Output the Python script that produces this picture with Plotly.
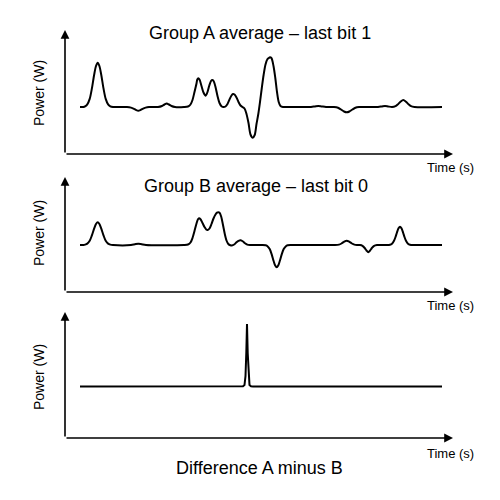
import plotly.graph_objects as go

# ---- data (time in arbitrary units, power in arbitrary units) ----
t_a = [15, 18.5,
       20.1, 22.3, 24.7, 26.9, 29.2, 31.0, 32.7, 34.4, 36.2, 38.5, 40.7, 43.1, 45.3, 48,
       62, 66, 69, 71.3, 73.3, 75.3, 77.6, 80.6, 84,
       93, 97, 99.5, 101.7, 104, 106.5, 110,
       119, 123, 125.5, 127.5, 129.5, 131.5, 132.3, 133.3, 134.5, 136.5, 138.5, 140.7,
       142.5, 144.3, 146, 147.3, 148.6, 150.5, 152.5, 154.5, 156.5, 158.5,
       160.5, 162.5, 164.5, 166.5, 168, 169.5, 171.5, 173.5, 175.5, 177.5,
       179.5, 181.5, 183.5, 185.5, 187.7, 189.7, 191.5, 193.3, 195, 196.8, 198.6,
       200.5, 202.5, 203.5, 205, 206.5, 208.5, 210.3, 212, 213.7, 215.5, 218, 222,
       246, 250, 253.3, 256.5, 261,
       269, 273, 276, 279, 281.7, 284.4, 287.4, 290.4, 294,
       313, 317, 320, 323, 327,
       330.5, 333, 335.5, 338.3, 341, 343.5, 346, 349.5, 377]
p_a = [47, 47,
       47.7, 49.7, 55.1, 65.6, 79.5, 88, 91.3, 88, 79.5, 65.6, 55.1, 49.7, 47.7, 47,
       47, 46.4, 45.2, 43.9, 43.3, 43.9, 45.2, 46.4, 47,
       47, 48, 49.5, 50.5, 49.5, 48, 47,
       47, 47.5, 49.5, 54, 62, 70.5, 74.5, 75.7, 74.5, 68, 61.5, 58.3,
       62, 68.5, 73, 74, 73, 67, 58, 51, 47.8, 47,
       47.5, 50, 54.5, 58.5, 60, 59.5, 56.5, 52, 48.5, 47,
       45.5, 40, 31, 19.5, 16.3, 19, 30, 40, 52, 66, 79,
       89.5, 95, 95.8, 96.7, 95.8, 88, 76, 62, 52, 48, 47, 47,
       47, 47.6, 48, 47.6, 47,
       47, 46.3, 44.5, 42.5, 41.7, 42.5, 44.5, 46.3, 47,
       47, 47.6, 48, 47.6, 47,
       47.8, 49.8, 52.3, 54, 52.3, 49.8, 47.8, 47, 47]

t_b = [15, 18.5,
       20.1, 22.3, 24.7, 26.9, 29.2, 31.0, 32.7, 34.4, 36.2, 38.5, 40.7, 43.1, 45.3, 48,
       66, 70, 73.3, 76.6, 81,
       119, 123, 125.5, 127.5, 129.5, 131.5, 133, 134, 135.5, 137.5, 139.5, 141.2, 142.7,
       144.5, 146.5, 148.5, 150.5, 152, 153.3, 154.6, 156.3, 158, 159.8, 161.5, 163.3,
       165.3, 167.5, 169.5, 171.5, 173.5, 175.7, 178, 180, 182.3, 185,
       197, 200.7, 202.7, 204.7, 206.7, 208.7, 210.2, 211.7, 213.2, 214.7, 216.7,
       218.7, 220.7, 222.7, 226,
       270, 274, 276.5, 279, 281.7, 284.4, 286.9, 289.4, 292,
       295, 297.5, 299.7, 301.5, 303.3, 305.1, 306.9, 309.1, 312,
       321, 325, 327, 329, 330.5, 332, 333.5, 335, 336.5, 338, 339.5, 341, 343, 345,
       349, 377]
p_b = [47, 47,
       47.4, 48.4, 51.2, 56.6, 63.6, 68, 69.7, 68, 63.6, 56.6, 51.2, 48.4, 47.4, 47,
       47, 47.8, 48.3, 47.8, 47,
       47, 47.5, 49.5, 54, 61, 68.5, 72.8, 73.7, 72.8, 69, 65, 62.5, 62,
       63.5, 68, 73.5, 77.5, 79.3, 79.7, 79.3, 75, 67, 58, 51.5, 48,
       46.8, 46.7, 47.8, 49.8, 51.2, 51.7, 50.5, 48.8, 47.4, 47,
       47, 46.7, 45.6, 42.9, 37.6, 30.7, 26.4, 24.7, 26.4, 30.7, 37.6,
       42.9, 45.6, 46.7, 47,
       47, 47.4, 48.5, 50.2, 51.3, 50.2, 48.5, 47.4, 47,
       47, 46.2, 44, 41.5, 39.7, 41.5, 44, 46.2, 47,
       47, 47.3, 48.3, 51.2, 55, 59.7, 63.7, 65.3, 63.7, 59.7, 55, 51.2, 48.3, 47.3,
       47, 47]

t_d = [15, 176, 178, 179.5, 180.5, 181.3, 182, 182.7, 183.5, 184.5, 186, 188, 377]
p_d = [51.5, 51.5, 51.8, 53, 62, 85, 114, 85, 62, 53, 51.8, 51.5, 51.5]

titles = ["Group A average – last bit 1", "Group B average – last bit 0",
          "Difference A minus B"]
x_label = "Time (s)"
y_label = "Power (W)"

X_MAX = 388
Y_MAX = [124, 115, 126]
y_domains = [[0.692, 0.94], [0.416, 0.646], [0.124, 0.376]]
x_domain = [0.13, 0.906]

FONT = "Liberation Sans, Arial, sans-serif"

fig = go.Figure()
series = [(t_a, p_a, "spline"), (t_b, p_b, "spline"), (t_d, p_d, "linear")]
for i, (tx, py, shape) in enumerate(series):
    n = "" if i == 0 else str(i + 1)
    line = dict(color="black", width=2, shape=shape)
    if shape == "spline":
        line["smoothing"] = 0.8
    fig.add_trace(go.Scatter(x=tx, y=py, mode="lines", line=line,
                             xaxis="x" + n, yaxis="y" + n,
                             showlegend=False, hoverinfo="skip"))

layout = dict(width=500, height=500, margin=dict(l=0, r=0, t=0, b=0),
              paper_bgcolor="white", plot_bgcolor="white", showlegend=False)
annotations = []
for i in range(3):
    n = "" if i == 0 else str(i + 1)
    layout["xaxis" + n] = dict(domain=x_domain, range=[0, X_MAX], visible=False,
                               anchor="y" + n, fixedrange=True)
    layout["yaxis" + n] = dict(domain=y_domains[i], range=[0, Y_MAX[i]],
                               visible=False, anchor="x" + n, fixedrange=True)
    xr, yr = "x" + n, "y" + n
    # y axis arrow
    annotations.append(dict(x=0, y=Y_MAX[i], ax=0, ay=0, xref=xr, yref=yr,
                            axref=xr, ayref=yr, text="", showarrow=True,
                            arrowhead=2, arrowsize=1.1, arrowwidth=1.6,
                            arrowcolor="black", standoff=0, startstandoff=0))
    # x axis arrow
    annotations.append(dict(x=X_MAX, y=0, ax=0, ay=0, xref=xr, yref=yr,
                            axref=xr, ayref=yr, text="", showarrow=True,
                            arrowhead=2, arrowsize=1.1, arrowwidth=1.6,
                            arrowcolor="black", standoff=0, startstandoff=0))

# labels (paper coordinates, from pixel positions)
time_y = [167, 305, 453]
power_y = [93, 233, 377]
for i in range(3):
    annotations.append(dict(x=450.5 / 500, y=1 - time_y[i] / 500, xref="paper",
                            yref="paper", text=x_label, showarrow=False,
                            xanchor="center", yanchor="middle",
                            font=dict(family=FONT, size=13, color="black")))
    annotations.append(dict(x=39 / 500, y=1 - power_y[i] / 500, xref="paper",
                            yref="paper", text=y_label, showarrow=False,
                            textangle=-90, xanchor="center", yanchor="middle",
                            font=dict(family=FONT, size=14, color="black")))

title_pos = [(260, 33), (256, 186), (259.5, 468)]
for (px, py), txt in zip(title_pos, titles):
    annotations.append(dict(x=px / 500, y=1 - py / 500, xref="paper", yref="paper",
                            text=txt, showarrow=False, xanchor="center",
                            yanchor="middle",
                            font=dict(family=FONT, size=18, color="black")))

layout["annotations"] = annotations
fig.update_layout(**layout)
fig.write_html("out.html")
